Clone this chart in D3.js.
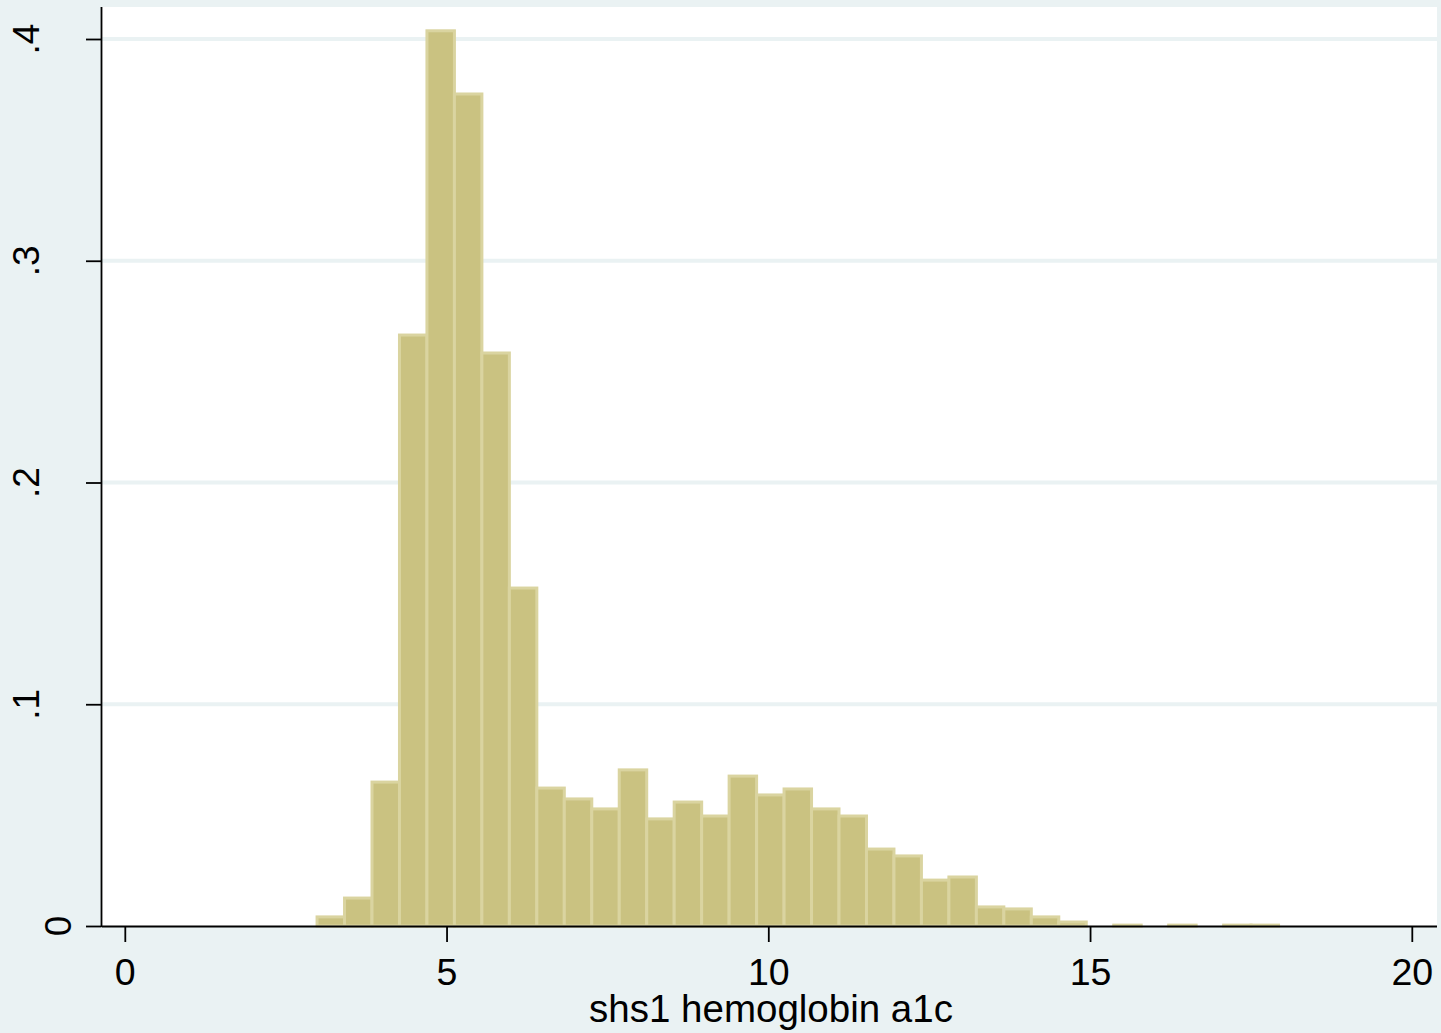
<!DOCTYPE html>
<html>
<head>
<meta charset="utf-8">
<script src="https://cdn.jsdelivr.net/npm/d3@7"></script>
<style>
  body { margin: 0; background: #eaf2f3; }
  svg { display: block; }
  text { font-family: "Liberation Sans", Arial, sans-serif; fill: #000; }
</style>
</head>
<body>
<div id="chart"></div>
<script>
// histogram of shs1 hemoglobin a1c, 35 bins
var binStart = 2.98;
var binWidth = 0.4269;
var density = [
    0.0041, 0.0126, 0.0649, 0.2665, 0.4037, 0.3752, 0.2584, 0.1524,
    0.0622, 0.0573, 0.0528, 0.0704, 0.0483, 0.0559, 0.0496, 0.0676,
    0.0591, 0.0618, 0.0528, 0.0496, 0.0347, 0.0316, 0.0207, 0.0221,
    0.0086, 0.0077, 0.0041, 0.0018, 0, 0.0004, 0, 0.0004,
    0, 0.0004, 0.0004
];
var xTicks = [0, 5, 10, 15, 20];
var yTicks = [0, 0.1, 0.2, 0.3, 0.4];
var yTickLabels = ["0", ".1", ".2", ".3", ".4"];
var xTitle = "shs1 hemoglobin a1c";

var svgWidth = 1441;
var svgHeight = 1033;

// plot region
var plot = { left: 102, right: 1437, top: 7, bottom: 926 };

var svg = d3.select("#chart")
    .append("svg")
    .attr("width", svgWidth)
    .attr("height", svgHeight);

svg.append("rect")
    .attr("width", svgWidth)
    .attr("height", svgHeight)
    .style("fill", "#eaf2f3");

var x = d3.scaleLinear()
    .domain([0, 20])
    .range([125.3, 1412.3]);

var y = d3.scaleLinear()
    .domain([0, 0.4])
    .range([926, 39]);

svg.append("rect")
    .attr("x", plot.left)
    .attr("y", plot.top)
    .attr("width", plot.right - plot.left)
    .attr("height", plot.bottom - plot.top)
    .style("fill", "#ffffff");

// gridlines
svg.append("g")
    .selectAll("line")
    .data(yTicks.filter(d => d > 0))
    .enter()
    .append("line")
    .attr("x1", plot.left)
    .attr("x2", plot.right)
    .attr("y1", d => y(d))
    .attr("y2", d => y(d))
    .style("stroke", "#eaf2f3")
    .style("stroke-width", 4);

var bins = density.map(function (d, i) {
    return { x0: binStart + i * binWidth, x1: binStart + (i + 1) * binWidth, v: d };
});

svg.append("g")
    .selectAll("rect")
    .data(bins.filter(d => d.v > 0))
    .enter()
    .append("rect")
    .attr("x", d => x(d.x0))
    .attr("y", d => y(d.v))
    .attr("width", d => x(d.x1) - x(d.x0))
    .attr("height", d => y(0) - y(d.v))
    .style("fill", "#cac281")
    .style("stroke", "#dad4a0")
    .style("stroke-width", 3);

// y axis
var yAxis = svg.append("g");
yAxis.append("line")
    .attr("x1", 101.5).attr("x2", 101.5)
    .attr("y1", plot.top).attr("y2", plot.bottom + 1)
    .style("stroke", "#000").style("stroke-width", 1.8);
yAxis.selectAll(".tick")
    .data(yTicks)
    .enter()
    .append("line")
    .attr("x1", 86).attr("x2", 101.5)
    .attr("y1", d => y(d) + 0.5).attr("y2", d => y(d) + 0.5)
    .style("stroke", "#000").style("stroke-width", 1.8);
yAxis.selectAll("text")
    .data(yTicks)
    .enter()
    .append("text")
    .attr("transform", (d, i) => "translate(" + (d === 0 ? 71 : 39) + "," + y(d) + ") rotate(-90)")
    .attr("text-anchor", "middle")
    .style("font-size", "37px")
    .text((d, i) => yTickLabels[i]);

// x axis
var xAxis = svg.append("g");
xAxis.append("line")
    .attr("x1", plot.left).attr("x2", plot.right)
    .attr("y1", 926.5).attr("y2", 926.5)
    .style("stroke", "#000").style("stroke-width", 1.8);
xAxis.selectAll(".tick")
    .data(xTicks)
    .enter()
    .append("line")
    .attr("x1", d => x(d)).attr("x2", d => x(d))
    .attr("y1", 926.5).attr("y2", 942)
    .style("stroke", "#000").style("stroke-width", 1.8);
xAxis.selectAll("text")
    .data(xTicks)
    .enter()
    .append("text")
    .attr("x", d => x(d))
    .attr("y", 985)
    .attr("text-anchor", "middle")
    .style("font-size", "37.5px")
    .text(d => d);

svg.append("text")
    .attr("x", 771)
    .attr("y", 1022)
    .attr("text-anchor", "middle")
    .style("font-size", "38.5px")
    .text(xTitle);
</script>
</body>
</html>
